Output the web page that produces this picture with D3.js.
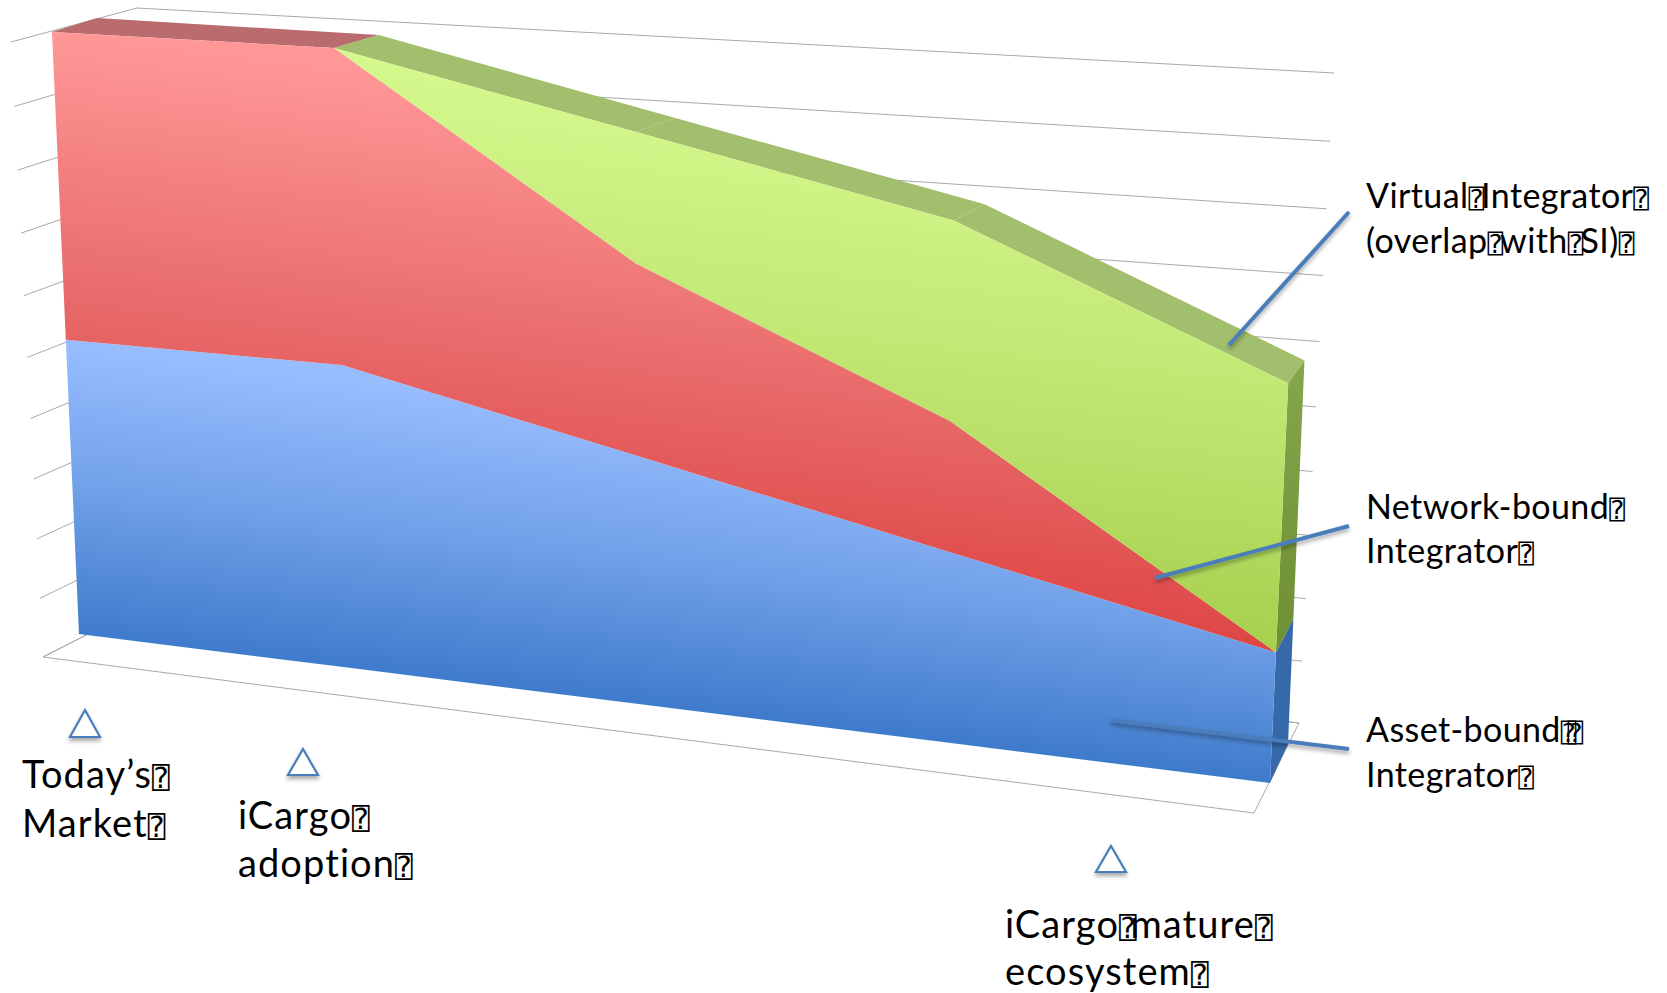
<!DOCTYPE html>
<html>
<head>
<meta charset="utf-8">
<script src="https://cdn.jsdelivr.net/npm/d3@7/dist/d3.min.js"></script>
<style>
  html, body { margin: 0; background: #fff; }
  svg { display: block; }
  text { font-family: Lato, "Open Sans", sans-serif; fill: #000; }
  tspan.missing { font-family: "DejaVu Sans Mono", "DejaVu Sans", monospace; letter-spacing: 0; }
</style>
</head>
<body>
<svg id="chart" width="1667" height="993"></svg>
<script>
// Series values, stacked bottom to top (share of market, percent)
const categories = [1, 2, 3, 4, 5];
const seriesKeys = ["asset", "network", "virtual"];
const assetBound = [50, 50, 40, 30, 20];
const networkBound = [50, 50, 30, 20, 0];
const virtualIntegrator = [0, 0, 20, 30, 40];
const valueTicks = [0, 10, 20, 30, 40, 50, 60, 70, 80, 90, 100];

// Text; the ⍰ mark stands for a glyph the font could not supply
const MISSING = "⍰";
const calloutText = [
  { lines: ["Virtual⍰Integrator⍰", "(overlap⍰with⍰SI)⍰"], x: 1366, y: [208, 253], size: 34, spacing: 0.4, box: 26, gap: -3 },
  { lines: ["Network-bound⍰", "Integrator⍰"], x: 1366, y: [519, 563], size: 34, spacing: 0.4, box: 26, gap: -3 },
  { lines: ["Asset-bound⍰⍰", "Integrator⍰"], x: 1366, y: [742, 787], size: 34, spacing: 0.4, box: 26, gap: -3 }
];
const milestoneText = [
  { lines: ["Today’s⍰", "Market⍰"], x: 22, y: [788, 837], apex: [85, 710], base: 737, size: 38, spacing: 1.1, box: 29, gap: -6 },
  { lines: ["iCargo⍰", "adoption⍰"], x: 238, y: [829, 877], apex: [303, 749], base: 775, size: 38, spacing: 1.1, box: 29, gap: -6 },
  { lines: ["iCargo⍰mature⍰", "ecosystem⍰"], x: 1005, y: [938, 985], apex: [1111, 846], base: 872, size: 38, spacing: 1.1, box: 29, gap: -6 }
];
const leaderLines = [
  [[1349, 212], [1229, 345]],
  [[1349, 526], [1155, 578]],
  [[1349, 749], [1111, 720]]
];

// Perspective planes, corners given as top-left, top-right, bottom-right, bottom-left
const planeFront = [[52, 32], [1301, 103], [1270, 783], [79, 634]];
const planeRear = [[97, 18], [1316, 92], [1288, 744], [124, 612]];
const planeWall = [[137, 8], [1334, 73], [1299, 723], [163, 596]];
const planeNear = [[11, 42], [1290, 118], [1254, 813], [43, 657]];

// Maps unit-square coordinates onto a quadrilateral with a projective transform
function planeMap([tl, tr, br, bl]) {
  const d1 = [br[0] - tr[0], br[1] - tr[1]];
  const d2 = [tl[0] - tr[0], tl[1] - tr[1]];
  const s = [bl[0] - br[0] + tr[0] - tl[0], bl[1] - br[1] + tr[1] - tl[1]];
  const det = d1[0] * d2[1] - d2[0] * d1[1];
  const g = (s[0] * d2[1] - d2[0] * s[1]) / det;
  const h = (d1[0] * s[1] - s[0] * d1[1]) / det;
  const a = br[0] * (1 + g) - bl[0], b = tl[0] * (1 + h) - bl[0];
  const d = br[1] * (1 + g) - bl[1], e = tl[1] * (1 + h) - bl[1];
  return (u, v) => {
    const w = 1 + g * u + h * v;
    return [(a * u + b * v + bl[0]) / w, (d * u + e * v + bl[1]) / w];
  };
}

const front = planeMap(planeFront);
const rear = planeMap(planeRear);
const wall = planeMap(planeWall);
const near = planeMap(planeNear);

const uScale = d3.scalePoint().domain(categories).range([0, 1]);
const vScale = d3.scaleLinear().domain([0, 100]).range([0, 1]);

const rows = categories.map((c, i) => ({
  category: c,
  asset: assetBound[i],
  network: networkBound[i],
  virtual: virtualIntegrator[i]
}));
const stacked = d3.stack().keys(seriesKeys)(rows);

const svg = d3.select("#chart");
const defs = svg.append("defs");
const polygon = d3.line().curve(d3.curveLinearClosed);
const straight = d3.line();

// Soft shadow under the annotation shapes
const shadow = defs.append("filter").attr("id", "shadow")
  .attr("x", "-20%").attr("y", "-20%").attr("width", "140%").attr("height", "160%");
shadow.append("feDropShadow").attr("dx", 0).attr("dy", 3).attr("stdDeviation", 2)
  .attr("flood-color", "#000").attr("flood-opacity", 0.35);

// Front-face fills run along the floor slope, top light to bottom dark
function gradient(id, p1, p2, stops) {
  const g = defs.append("linearGradient").attr("id", id)
    .attr("gradientUnits", "userSpaceOnUse")
    .attr("x1", p1[0]).attr("y1", p1[1]).attr("x2", p2[0]).attr("y2", p2[1]);
  stops.forEach(([o, c]) => g.append("stop").attr("offset", o).attr("stop-color", c));
}
gradient("fill-asset", [75, 345], [40, 630], [[0, "#98bdff"], [0.5, "#70a0e8"], [1, "#3f7bcb"]]);
gradient("fill-network", [50, 32], [-10, 530], [[0, "#ff9797"], [0.5, "#e96c6c"], [1, "#dd4040"]]);
gradient("fill-virtual", [340, 48], [285, 555], [[0, "#d6f98e"], [0.5, "#c0e672"], [1, "#a5cf4c"]]);
gradient("side-virtual", [1296, 360], [1280, 640], [[0, "#86a64c"], [1, "#6f8f35"]]);

const fills = { asset: "url(#fill-asset)", network: "url(#fill-network)", virtual: "url(#fill-virtual)" };

// Walls and floor behind the areas
const gridColor = "#a9a9a9";
const grid = svg.append("g").attr("fill", "none").attr("stroke", gridColor).attr("stroke-width", 1);
grid.selectAll(".wall-line").data(valueTicks).join("path")
  .attr("class", "wall-line")
  .attr("d", t => straight([wall(0, vScale(t)), wall(1, vScale(t))]));
grid.selectAll(".side-line").data(valueTicks).join("path")
  .attr("class", "side-line")
  .attr("d", t => straight([near(0, vScale(t)), wall(0, vScale(t))]));
grid.append("path").attr("d", polygon([near(0, 0), near(1, 0), wall(1, 0), wall(0, 0)]));

// Top surfaces of the stack, one band per category step
const topLayer = stacked[stacked.length - 1];
const topSteps = d3.pairs(d3.range(categories.length));
svg.append("g").selectAll("path").data(topSteps).join("path")
  .attr("fill", ([, j]) => virtualIntegrator[j] > 0 ? "#a1bf6c" : "#b96b6d")
  .attr("d", ([i, j]) => {
    const ui = uScale(categories[i]), uj = uScale(categories[j]);
    const vi = vScale(topLayer[i][1]), vj = vScale(topLayer[j][1]);
    return polygon([front(ui, vi), front(uj, vj), rear(uj, vj), rear(ui, vi)]);
  });

// Right-hand end faces
const last = categories.length - 1;
const sideFills = { asset: "#3569a9", network: "#b94a4a", virtual: "url(#side-virtual)" };
svg.append("g").selectAll("path").data(stacked).join("path")
  .attr("fill", d => sideFills[d.key])
  .attr("d", d => {
    const v0 = vScale(d[last][0]), v1 = vScale(d[last][1]);
    return polygon([front(1, v0), front(1, v1), rear(1, v1), rear(1, v0)]);
  });

// Front faces of the stacked areas
svg.append("g").selectAll("path").data(stacked).join("path")
  .attr("fill", d => fills[d.key])
  .attr("d", d => {
    const upper = d.map((p, i) => front(uScale(categories[i]), vScale(p[1])));
    const lower = d.map((p, i) => front(uScale(categories[i]), vScale(p[0]))).reverse();
    return polygon(upper.concat(lower));
  });

// Leader lines from the labels into the chart
svg.append("g").attr("fill", "none").attr("stroke", "#4a7ebb").attr("stroke-width", 4)
  .attr("filter", "url(#shadow)")
  .selectAll("path").data(leaderLines).join("path")
  .attr("d", d => straight(d));

// Milestone triangles
svg.append("g").attr("fill", "#fff").attr("stroke", "#4a7ebb").attr("stroke-width", 2.2)
  .attr("filter", "url(#shadow)")
  .selectAll("path").data(milestoneText).join("path")
  .attr("d", d => polygon([d.apex, [d.apex[0] + 15, d.base], [d.apex[0] - 15, d.base]]));

// Labels, with the missing-glyph boxes set tight against their neighbours
function drawLabel(group, label) {
  label.lines.forEach((line, i) => {
    const text = group.append("text").attr("x", label.x).attr("y", label.y[i])
      .attr("font-size", label.size).attr("letter-spacing", label.spacing);
    line.split(MISSING).forEach((part, k, parts) => {
      if (part) text.append("tspan").attr("dx", k > 0 ? label.gap : 0).text(part);
      if (k < parts.length - 1) {
        text.append("tspan").attr("class", "missing").attr("font-size", label.box)
          .attr("dx", k > 0 && !part ? -9 : 0).text(MISSING);
      }
    });
  });
}
const labels = svg.append("g");
calloutText.concat(milestoneText).forEach(l => drawLabel(labels, l));
</script>
</body>
</html>
